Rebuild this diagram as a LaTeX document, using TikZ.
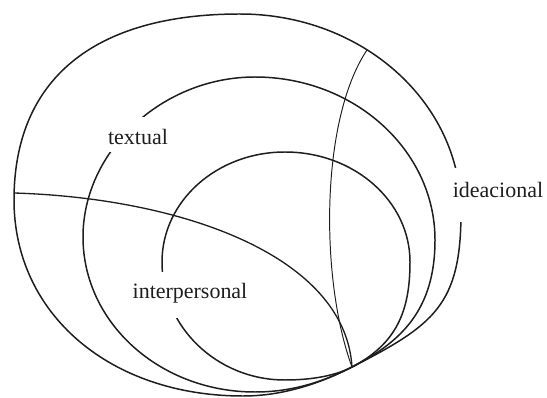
\documentclass[tikz,border=0pt]{standalone}
\usepackage{fontspec}
\setmainfont{Liberation Serif}
\usepackage{tikz}
\definecolor{metaInk}{HTML}{1E1E1E}

\begin{document}
\begin{tikzpicture}[x=0.02cm,y=-0.02cm,
  ring/.style={draw=metaInk,line width=0.85pt},
  split/.style={draw=metaInk,line width=0.75pt},
  lbl/.style={font=\fontsize{12.5}{15}\selectfont,text=metaInk,fill=white,
              inner xsep=2pt,inner ysep=0pt,anchor=base}]
\useasboundingbox (0,0) rectangle (547,398);

%% where everything meets
\coordinate (tp) at (352,367);
\coordinate (s1) at (14,193);
\coordinate (s2) at (367,50);

%% ideacional (outer ring)
\draw[ring] (14,200) .. controls (14,80) and (93,14) .. (240,14)
  .. controls (362,14) and (461,102) .. (461,212)
  .. controls (461,305) and (434,325) .. (tp)
  .. controls (319,384) and (282,396) .. (243,396)
  .. controls (110,396) and (14,314) .. cycle;

%% textual (middle ring)
\draw[ring] (83,237) .. controls (83,151) and (162,77) .. (255,77)
  .. controls (354,77) and (435,150) .. (435,240)
  .. controls (435,310) and (401,342) .. (tp)
  .. controls (321,383) and (290,392) .. (255,392)
  .. controls (160,392) and (83,323) .. cycle;

%% interpersonal (inner ring)
\draw[ring] (162,262) .. controls (162,201) and (217,152) .. (285,152)
  .. controls (354,152) and (410,201) .. (410,262)
  .. controls (410,312) and (396,344) .. (tp)
  .. controls (333,377) and (307,380) .. (285,380)
  .. controls (217,380) and (162,327) .. cycle;

%% the two splits
\draw[split] (s1) .. controls (180,198) and (345,255) .. (tp);
\draw[split,line width=0.55pt] (s2) .. controls (320,120) and (320,280) .. (tp);

%% labels (their white boxes open the rings)
\node[lbl,text height=0.56cm,text depth=0.14cm] (textual) at (138,145) {textual};
\node[lbl,text height=0.6cm,text depth=0.48cm] (ideacional) at (498,198) {ideacional};
\node[lbl,text height=0.52cm,text depth=0.4cm] (interpersonal) at (190,298) {interpersonal};
\end{tikzpicture}
\end{document}
